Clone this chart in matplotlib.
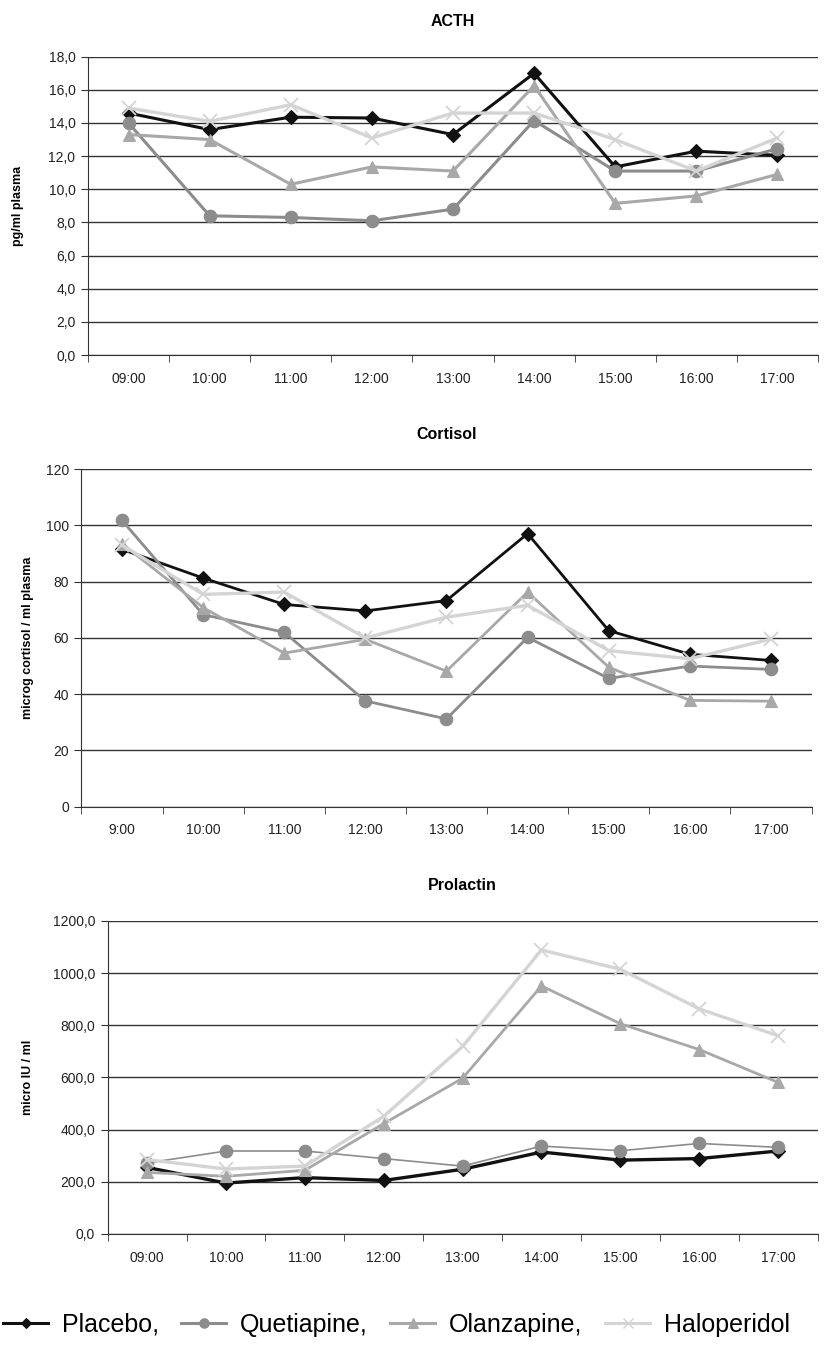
import numpy as np
import matplotlib
matplotlib.use('Agg')
import matplotlib.pyplot as plt
from matplotlib.lines import Line2D

plt.rcParams['font.family'] = ['Liberation Sans', 'DejaVu Sans']

# time points
times = ['09:00', '10:00', '11:00', '12:00', '13:00', '14:00', '15:00', '16:00', '17:00']
times_cort = ['9:00', '10:00', '11:00', '12:00', '13:00', '14:00', '15:00', '16:00', '17:00']

# ACTH (pg/ml plasma)
acth_placebo = [14.6, 13.6, 14.35, 14.3, 13.3, 17.0, 11.35, 12.3, 12.05]
acth_quetiapine = [14.0, 8.4, 8.3, 8.1, 8.8, 14.15, 11.1, 11.1, 12.45]
acth_olanzapine = [13.3, 13.0, 10.3, 11.35, 11.1, 16.25, 9.15, 9.6, 10.9]
acth_haloperidol = [14.9, 14.1, 15.1, 13.1, 14.6, 14.6, 13.0, 11.1, 13.1]

# Cortisol (microg / ml plasma)
cort_placebo = [91.5, 81.3, 71.9, 69.6, 73.3, 97.1, 62.6, 54.2, 52.0]
cort_quetiapine = [101.8, 68.3, 62.0, 37.6, 31.2, 60.2, 45.6, 50.0, 48.8]
cort_olanzapine = [93.5, 70.8, 54.6, 59.5, 48.2, 76.3, 49.6, 37.8, 37.5]
cort_haloperidol = [93.0, 75.5, 76.3, 60.0, 67.4, 71.6, 55.5, 52.6, 59.6]

# Prolactin (micro IU / ml)
prl_placebo = [255, 195, 216, 205, 248, 314, 283, 289, 318]
prl_quetiapine = [272, 318, 318, 289, 260, 337, 319, 347, 332]
prl_olanzapine = [236, 221, 244, 423, 597, 951, 806, 707, 581]
prl_haloperidol = [285, 249, 260, 451, 719, 1089, 1015, 863, 760]

names = ['Placebo,', 'Quetiapine,', 'Olanzapine,', 'Haloperidol']
colors = ['#111111', '#8c8c8c', '#a8a8a8', '#d4d4d4']
markers = ['D', 'o', '^', 'x']
msizes = [7, 9, 9, 10]

fig = plt.figure(figsize=(8.33, 13.53), dpi=100)

panels = [
    ('ACTH', 'pg/ml plasma', times,
     [acth_placebo, acth_quetiapine, acth_olanzapine, acth_haloperidol],
     [0.1056, 0.7376, 0.8764, 0.2205], np.arange(0, 18.1, 2), '{:.1f}', -0.088, [2.2, 2.2, 2.2, 2.4]),
    ('Cortisol', 'microg cortisol / ml plasma', times_cort,
     [cort_placebo, cort_quetiapine, cort_olanzapine, cort_haloperidol],
     [0.0978, 0.4038, 0.8764, 0.2494], np.arange(0, 121, 20), '{:.0f}', -0.065, [2.0, 2.0, 2.0, 2.4]),
    ('Prolactin', 'micro IU / ml', times,
     [prl_placebo, prl_quetiapine, prl_olanzapine, prl_haloperidol],
     [0.1292, 0.088, 0.8523, 0.2313], np.arange(0, 1201, 200), '{:.1f}', -0.104, [2.4, 1.2, 2.0, 2.4]),
]

for title, ylab, labels, series, pos, yticks, fmt, labx, lws in panels:
    ax = fig.add_axes(pos)
    x = np.arange(len(labels))
    for s, c, m, ms, lw in zip(series, colors, markers, msizes, lws):
        ax.plot(x, s, color=c, marker=m, markersize=ms, linewidth=lw,
                markeredgewidth=1.3 if m == 'x' else 0.8, zorder=3)
    ax.set_xlim(-0.5, len(labels) - 0.5)
    ax.set_ylim(yticks[0], yticks[-1])
    ax.set_yticks(yticks)
    ax.set_yticklabels([fmt.format(v).replace('.', ',') for v in yticks], fontsize=10, color='#222222')
    ax.set_xticks(x)
    ax.set_xticklabels(labels, fontsize=10, color='#222222')
    ax.set_xticks(np.arange(-0.5, len(labels)), minor=True)
    ax.tick_params(axis='x', which='major', length=0, pad=12)
    ax.tick_params(axis='x', which='minor', length=5, color='#333333')
    ax.tick_params(axis='y', length=5, color='#333333', pad=4)
    for v in yticks:
        ax.axhline(v, color='#333333', linewidth=1.0, zorder=1)
    for side in ['top', 'right']:
        ax.spines[side].set_visible(False)
    ax.spines['left'].set_color('#333333')
    ax.spines['bottom'].set_color('#333333')
    ax.set_title(title, fontsize=11.5, fontweight='bold', pad=22)
    ax.set_ylabel(ylab, fontsize=9, fontweight='bold')
    ax.yaxis.set_label_coords(labx, 0.5)

# legend handles: short line with small marker
handles = [Line2D([0], [0], color=c, marker=m, markersize=ms * 0.75, linewidth=2.2,
                  markeredgewidth=1.0 if m == 'x' else 0.8)
           for c, m, ms in zip(colors, markers, msizes)]
fig.legend(handles, names, loc='center', bbox_to_anchor=(0.476, 0.021), ncol=4,
           frameon=False, fontsize=18, handlelength=1.8, handletextpad=0.55,
           columnspacing=0.9, borderpad=0, borderaxespad=0)

fig.savefig('out.png', dpi=100)
